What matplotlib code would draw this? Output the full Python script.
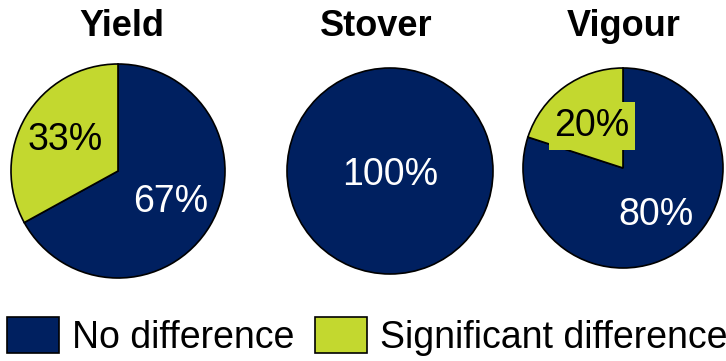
import matplotlib
matplotlib.use("Agg")
import matplotlib.pyplot as plt
from matplotlib.patches import Patch

# share of traits with / without a significant difference
titles = ["Yield", "Stover", "Vigour"]
no_diff = [67, 100, 80]
sig_diff = [33, 0, 20]
legend_labels = ["No difference", "Significant difference"]

navy = "#002060"
lime = "#C3D82F"

plt.rcParams["font.family"] = ["Liberation Sans", "DejaVu Sans"]

W, H = 726, 361
fig = plt.figure(figsize=(W / 100, H / 100), dpi=100)

# pie centres and radii in pixels
centres = [(118, 171, 107), (390, 171, 103), (623, 168, 100)]
title_x = [122, 376, 624]


def pie_axes(cx, cy, r):
    pad = 1.04
    w = 2 * r * pad
    return fig.add_axes([(cx - r * pad) / W, (H - cy - r * pad) / H, w / W, w / H])


for i, title in enumerate(titles):
    cx, cy, r = centres[i]
    ax = pie_axes(cx, cy, r)
    vals = [no_diff[i], sig_diff[i]]
    cols = [navy, lime]
    if sig_diff[i] == 0:
        vals, cols = [no_diff[i]], [navy]
    wedges, texts, autotexts = ax.pie(
        vals, colors=cols, startangle=90, counterclock=False,
        autopct="%d%%", pctdistance=0.57 if len(vals) > 1 else 0.02,
        wedgeprops=dict(edgecolor="black", linewidth=1.2),
        textprops=dict(fontsize=27),
    )
    autotexts[0].set_color("white")
    if len(vals) == 1:
        autotexts[0].set_position((0, -0.04))
    else:
        autotexts[1].set_color("black")
        if i == 2:
            autotexts[0].set_position((0.33, -0.47))
            autotexts[1].set_position((-0.31, 0.42))
            autotexts[1].set_bbox(dict(facecolor=lime, edgecolor="none",
                                       boxstyle="square,pad=0.15"))
    ax.set_xlim(-1.04, 1.04)
    ax.set_ylim(-1.04, 1.04)
    ax.set_aspect("equal")
    fig.text(title_x[i] / W, 1 - 26 / H, title, fontsize=26,
             fontweight="bold", ha="center", va="center")

handles = [Patch(facecolor=navy, edgecolor="black", linewidth=1.2),
           Patch(facecolor=lime, edgecolor="black", linewidth=1.2)]
fig.legend(handles, legend_labels, loc="upper left",
           bbox_to_anchor=(7 / W, 1 - 317 / H), ncol=2, frameon=False,
           fontsize=27, handlelength=1.4, handleheight=1.1,
           handletextpad=0.33, columnspacing=0.55, borderpad=0,
           borderaxespad=0)

fig.savefig("out.png", dpi=100)
